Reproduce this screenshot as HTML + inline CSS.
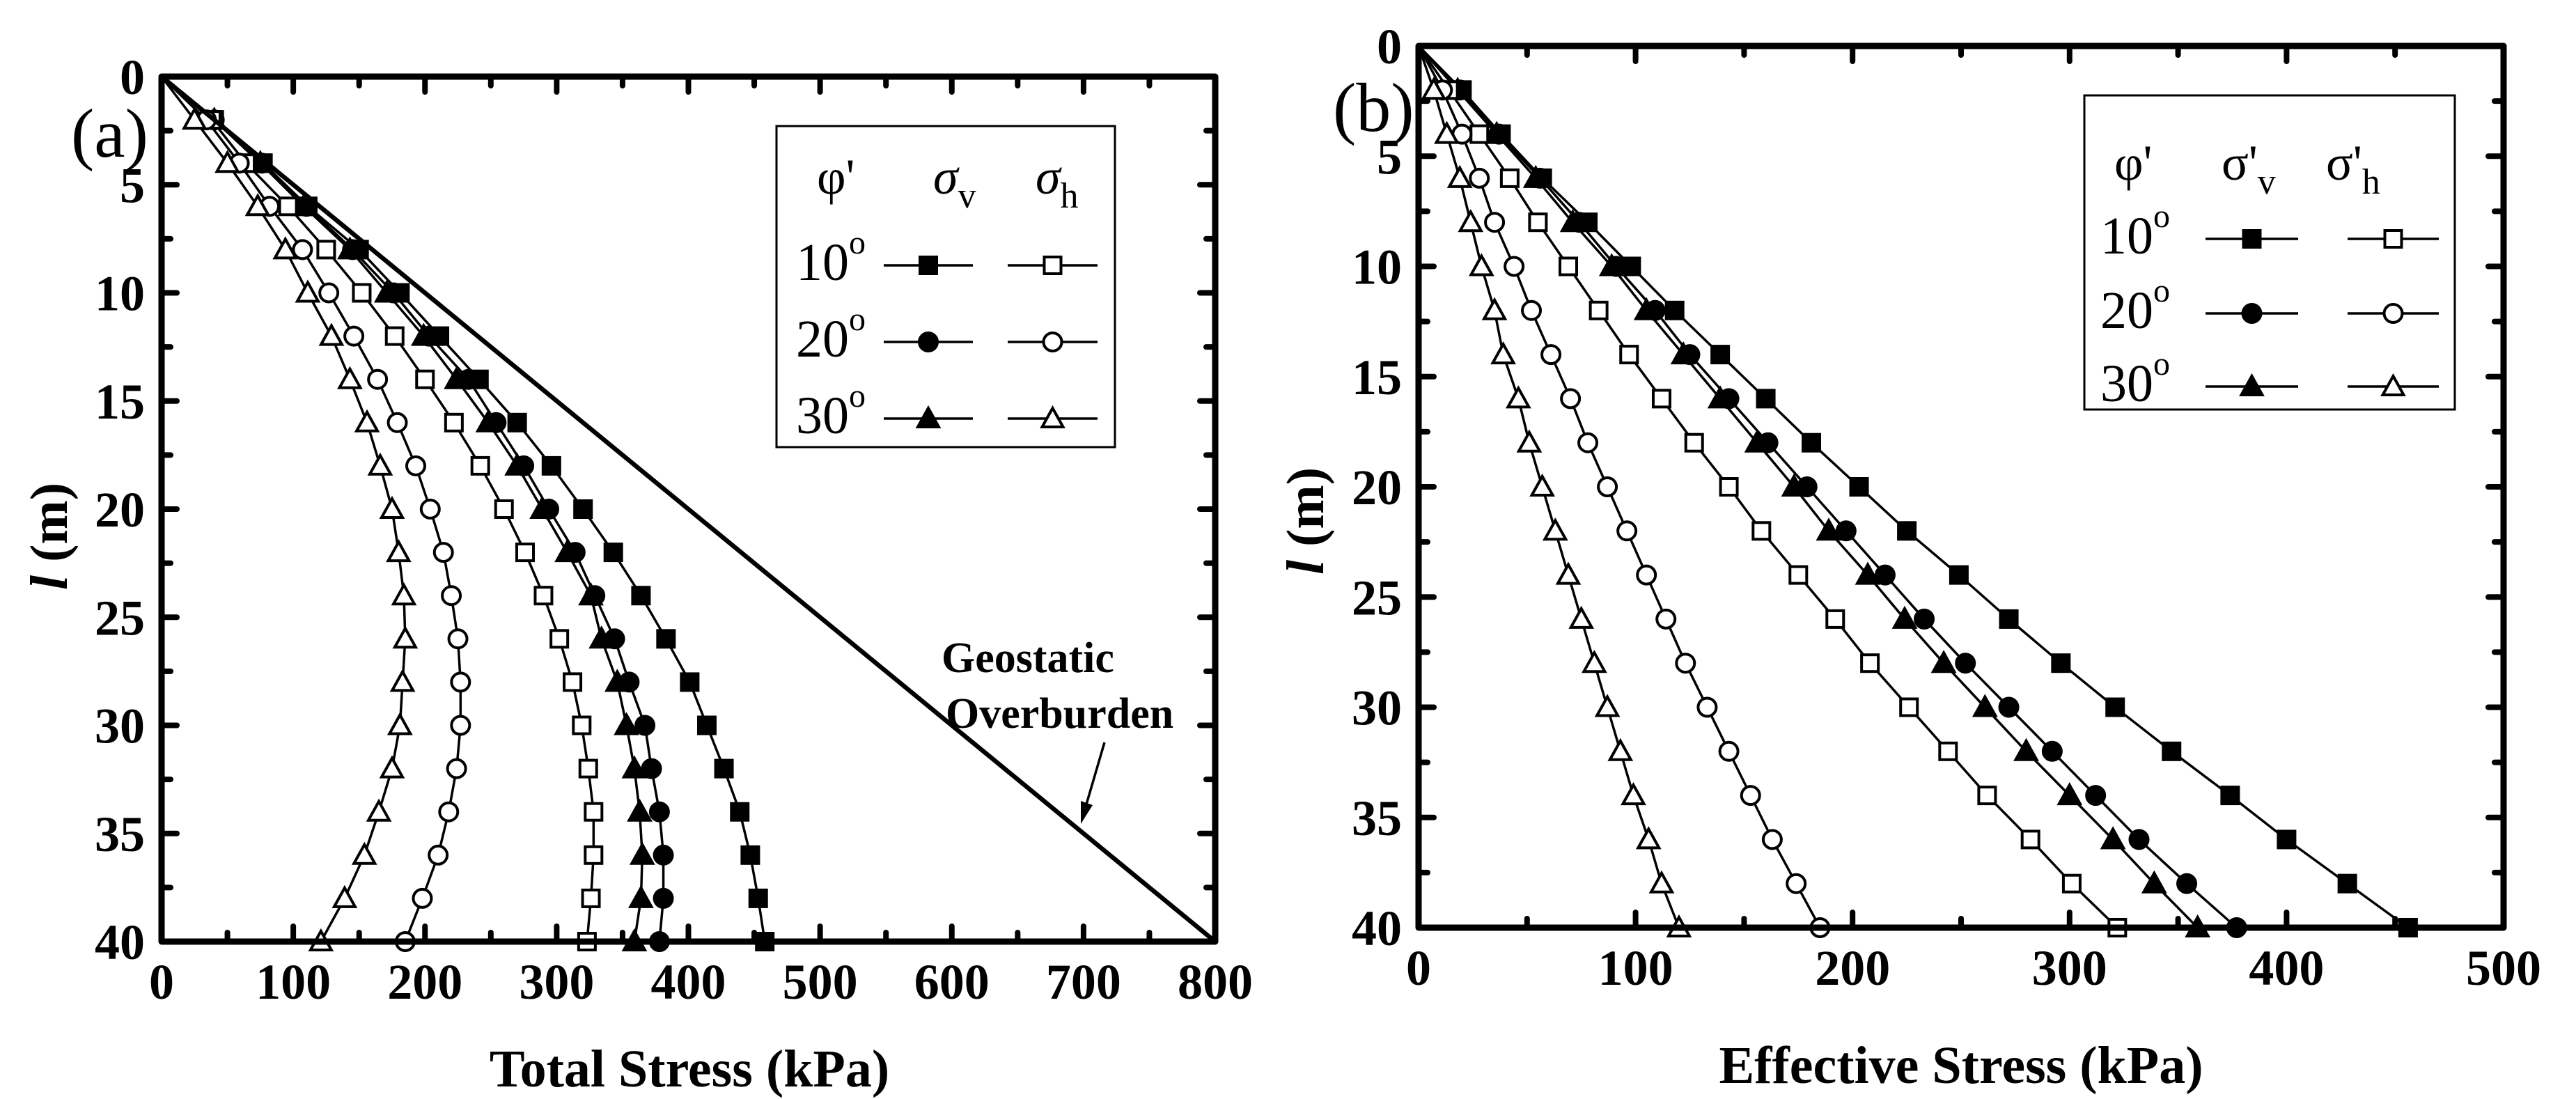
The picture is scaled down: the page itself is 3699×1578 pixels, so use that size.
<!DOCTYPE html>
<html><head><meta charset="utf-8"><style>
html,body{margin:0;padding:0;background:#fff;}
svg{display:block;font-family:"Liberation Serif","DejaVu Serif",serif;}
</style></head><body>
<svg id="fig" width="3699" height="1578" viewBox="0 0 3699 1578" xmlns="http://www.w3.org/2000/svg">
<g id="pa"></g>
<g id="pb"></g>
</svg>
<script>
const depths = [0,2,4,6,8,10,12,14,16,18,20,22,24,26,28,30,32,34,36,38,40];
// Panel (a) total stress (kPa)
const totV10 = [0,40,77,111,150,181,211,241,270,296,320,343,364,383,401,414,427,439,447,453,458];
const totV20 = [0,40,76,110,145,176,203,233,254,275,294,314,329,344,355,367,372,378,381,381,378];
const totV30 = [0,40,75,108,143,171,199,224,248,270,289,308,326,334,346,353,359,363,365,364,359];
const totH10 = [0,38,64,96,125,152,177,200,222,242,260,276,290,302,312,319,324,328,328,326,323];
const totH20 = [0,34,59,82,107,127,146,164,179,193,204,214,220,225,227,227,224,218,210,198,185];
const totH30 = [0,25,50,73,94,111,129,143,156,166,175,180,184,185,183,181,175,165,154,139,121];
const geoX = [0,800];
const geoZ = [0,40];
// Panel (b) effective stress (kPa)
const effV10 = [0,20,38,57,78,98,118,139,160,181,203,225,249,272,296,321,347,374,400,428,456];
const effV20 = [0,19,37,56,74,91,109,125,143,161,179,197,215,233,252,272,292,312,332,354,377];
const effV30 = [0,18,36,54,71,89,105,122,139,156,173,189,207,224,242,261,280,300,320,339,359];
const effH10 = [0,14,28,42,55,69,83,97,112,127,143,158,175,192,208,226,244,262,282,301,322];
const effH20 = [0,11,20,28,35,44,52,61,70,78,87,96,105,114,123,133,143,153,163,174,185];
const effH30 = [0,7,13,19,24,29,35,39,46,51,57,63,69,75,81,87,93,99,106,112,120];
const xTicksA = ["0","100","200","300","400","500","600","700","800"];
const xTicksB = ["0","100","200","300","400","500"];
const yTicks = ["0","5","10","15","20","25","30","35","40"];

const NS="http://www.w3.org/2000/svg";
function mk(parent,tag,attrs,name){const e=document.createElementNS(NS,tag);for(const k in attrs)e.setAttribute(k,attrs[k]);


parent.appendChild(e);return e;}

function marker(g,m,f,x,y,name){
  const a={fill:f?'#000':'#fff',stroke:'#000','stroke-width':4};
  if(m==='s'){a.x=x-12;a.y=y-12;a.width=24;a.height=24;mk(g,'rect',a,name);}
  else if(m==='c'){a.cx=x;a.cy=y;a.r=13;mk(g,'circle',a,name);}
  else {a.points=(x)+','+(y-15)+' '+(x-15)+','+(y+12)+' '+(x+15)+','+(y+12);mk(g,'polygon',a,name);}
}
function panel(g,P){
  const sx=v=>P.x0+(v/P.xmax)*(P.x1-P.x0);
  const sy=v=>P.y0+(v/40)*(P.y1-P.y0);
  for(let v=0;v<=P.xmax;v+=50){
    const major=v%100===0, L=major?22:13;
    mk(g,'line',{x1:sx(v),x2:sx(v),y1:P.y1,y2:P.y1-L,stroke:'#000','stroke-width':8,'stroke-linecap':'round'},'x-tick');
    mk(g,'line',{x1:sx(v),x2:sx(v),y1:P.y0,y2:P.y0+L,stroke:'#000','stroke-width':8,'stroke-linecap':'round'},'x-tick-top');
  }
  for(let v=0;v<=40;v+=2.5){
    const major=v%5===0, L=major?22:13;
    mk(g,'line',{x1:P.x0,x2:P.x0+L,y1:sy(v),y2:sy(v),stroke:'#000','stroke-width':8,'stroke-linecap':'round'},'y-tick');
    mk(g,'line',{x1:P.x1,x2:P.x1-L,y1:sy(v),y2:sy(v),stroke:'#000','stroke-width':8,'stroke-linecap':'round'},'y-tick-right');
  }
  P.xt.forEach((t,i)=>{const e=mk(g,'text',{x:sx(i*100),y:P.y1+82,'text-anchor':'middle','font-size':72,'font-weight':'bold'},'x-tick-label');e.textContent=t;});
  yTicks.forEach((t,i)=>{const e=mk(g,'text',{x:P.x0-24,y:sy(i*5)+25,'text-anchor':'end','font-size':72,'font-weight':'bold'},'y-tick-label');e.textContent=t;});
  P.series.forEach(s=>{
    const pts=depths.map((z,i)=>sx(s.d[i])+','+sy(z)).join(' ');
    mk(g,'polyline',{points:pts,fill:'none',stroke:'#000','stroke-width':3.5},s.name+'-line');
    depths.forEach((z,i)=>{if(z===0)return;marker(g,s.m,s.f,sx(s.d[i]),sy(z),s.name+'-marker');});
  });
  mk(g,'rect',{x:P.x0,y:P.y0,width:P.x1-P.x0,height:P.y1-P.y0,fill:'none',stroke:'#000','stroke-width':9,'stroke-linejoin':'round'},'plot-frame');
}
const ga=document.getElementById('pa'), gb=document.getElementById('pb');
panel(ga,{x0:232,x1:1745,y0:110,y1:1352,xmax:800,xt:xTicksA,series:[
 {name:'sigma-v-10',d:totV10,m:'s',f:1},{name:'sigma-v-20',d:totV20,m:'c',f:1},{name:'sigma-v-30',d:totV30,m:'t',f:1},
 {name:'sigma-h-10',d:totH10,m:'s',f:0},{name:'sigma-h-20',d:totH20,m:'c',f:0},{name:'sigma-h-30',d:totH30,m:'t',f:0}]});
(function(){const sx=v=>232+v/800*1513, sy=v=>110+v/40*1242;
 mk(ga,'line',{x1:sx(geoX[0]),y1:sy(geoZ[0]),x2:sx(geoX[1]),y2:sy(geoZ[1]),stroke:'#000','stroke-width':6.5},'geostatic-overburden-line');})();
panel(gb,{x0:2037,x1:3595,y0:66,y1:1332,xmax:500,xt:xTicksB,series:[
 {name:'eff-sigma-v-10',d:effV10,m:'s',f:1},{name:'eff-sigma-v-20',d:effV20,m:'c',f:1},{name:'eff-sigma-v-30',d:effV30,m:'t',f:1},
 {name:'eff-sigma-h-10',d:effH10,m:'s',f:0},{name:'eff-sigma-h-20',d:effH20,m:'c',f:0},{name:'eff-sigma-h-30',d:effH30,m:'t',f:0}]});

function txt(g,x,y,s,attrs,name){const a=Object.assign({x:x,y:y},attrs);const e=mk(g,'text',a,name);e.innerHTML=s;return e;}
txt(ga,990,1560,'Total Stress (kPa)',{'text-anchor':'middle','font-size':76,'font-weight':'bold'},'x-axis-title');
txt(gb,2816,1555,'Effective Stress (kPa)',{'text-anchor':'middle','font-size':76,'font-weight':'bold'},'x-axis-title');
txt(ga,0,0,'<tspan font-style="italic">l</tspan> (m)',{'text-anchor':'middle','font-size':76,'font-weight':'bold',transform:'translate(96,770) rotate(-90)'},'y-axis-title');
txt(gb,0,0,'<tspan font-style="italic">l</tspan> (m)',{'text-anchor':'middle','font-size':76,'font-weight':'bold',transform:'translate(1900,748) rotate(-90)'},'y-axis-title');
txt(ga,102,225,'(a)',{'font-size':100},'panel-label');
txt(gb,1914,188,'(b)',{'font-size':100},'panel-label');
txt(ga,1352,965,'Geostatic',{'font-size':62,'font-weight':'bold'},'geostatic-label');
txt(ga,1358,1045,'Overburden',{'font-size':62,'font-weight':'bold'},'geostatic-label');
mk(ga,'line',{x1:1586,y1:1066,x2:1557,y2:1165,stroke:'#000','stroke-width':3.5},'geostatic-arrow');
mk(ga,'polygon',{points:'1552,1183 1552,1150 1569,1156',fill:'#000'},'geostatic-arrowhead');

function legend(g,L){
  mk(g,'rect',{x:L.x,y:L.y,width:L.w,height:L.h,fill:'#fff',stroke:'#000','stroke-width':3},'legend-box');
  txt(g,L.hx[0],L.hy,"φ'",{'font-size':72},'legend-header');
  txt(g,L.hx[1],L.hy,L.h1,{'font-size':72},'legend-header');
  txt(g,L.hx[2],L.hy,L.h2,{'font-size':72},'legend-header');
  const ms=['s','c','t'], labs=['10','20','30'];
  L.rows.forEach((ry,i)=>{
    txt(g,L.lx,ry+21,labs[i]+'<tspan font-size="48" dy="-38">o</tspan>',{'font-size':76},'legend-entry-label');
    mk(g,'line',{x1:L.f[0],x2:L.f[1],y1:ry,y2:ry,stroke:'#000','stroke-width':3.5},'legend-line');
    marker(g,ms[i],1,(L.f[0]+L.f[1])/2,ry,'legend-marker-filled');
    mk(g,'line',{x1:L.o[0],x2:L.o[1],y1:ry,y2:ry,stroke:'#000','stroke-width':3.5},'legend-line');
    marker(g,ms[i],0,(L.o[0]+L.o[1])/2,ry,'legend-marker-open');
  });
}
legend(ga,{x:1115,y:181,w:486,h:461,hx:[1173,1340,1487],hy:278,
 h1:`<tspan font-style="italic">σ</tspan><tspan font-size="52" dy="20">v</tspan>`,
 h2:`<tspan font-style="italic">σ</tspan><tspan font-size="52" dy="20">h</tspan>`,
 lx:1143,rows:[381,491,601],f:[1269,1397],o:[1447,1576]});
legend(gb,{x:2993,y:137,w:532,h:451,hx:[3036,3190,3340],hy:258,
 h1:`σ'<tspan font-size="52" dy="20">v</tspan>`,
 h2:`σ'<tspan font-size="52" dy="20">h</tspan>`,
 lx:3016,rows:[343,450,555],f:[3167,3300],o:[3371,3502]});
</script>
</body></html>
